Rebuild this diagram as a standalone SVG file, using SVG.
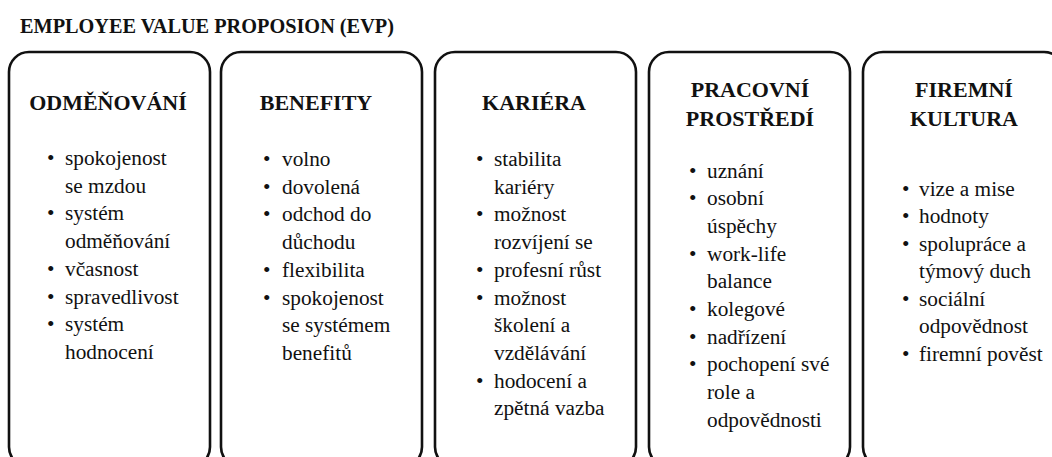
<svg xmlns="http://www.w3.org/2000/svg" width="1052" height="457" viewBox="0 0 1052 457">
<style>
.box{fill:#fff;stroke:#111;stroke-width:2.6}
.t{font-family:"Liberation Serif","Times New Roman",Times,serif;fill:#111}
.title{font-size:20.3px;font-weight:bold}
.h{font-size:22px;font-weight:bold;text-anchor:middle}
.b{font-size:21.3px}
</style>
<rect width="1052" height="457" fill="#fff"/>
<text class="t title" x="20" y="33">EMPLOYEE VALUE PROPOSION (EVP)</text>
<g id="odmenovani">
<rect class="box" x="9" y="52" width="201" height="415" rx="20"/>
<text class="t h" x="108" y="110">ODMĚŇOVÁNÍ</text>
<g class="t b">
<text x="47" y="165">•</text><text x="65" y="165">spokojenost</text><text x="65" y="192.7">se mzdou</text>
<text x="47" y="220.4">•</text><text x="65" y="220.4">systém</text><text x="65" y="248.1">odměňování</text>
<text x="47" y="275.8">•</text><text x="65" y="275.8">včasnost</text>
<text x="47" y="303.5">•</text><text x="65" y="303.5">spravedlivost</text>
<text x="47" y="331.2">•</text><text x="65" y="331.2">systém</text><text x="65" y="358.9">hodnocení</text>
</g>
</g>
<g id="benefity">
<rect class="box" x="221" y="52" width="201" height="415" rx="20"/>
<text class="t h" x="316" y="110">BENEFITY</text>
<g class="t b">
<text x="263" y="166">•</text><text x="282" y="166">volno</text>
<text x="263" y="193.7">•</text><text x="282" y="193.7">dovolená</text>
<text x="263" y="221.4">•</text><text x="282" y="221.4">odchod do</text><text x="282" y="249.1">důchodu</text>
<text x="263" y="276.8">•</text><text x="282" y="276.8">flexibilita</text>
<text x="263" y="304.5">•</text><text x="282" y="304.5">spokojenost</text><text x="282" y="332.2">se systémem</text><text x="282" y="359.9">benefitů</text>
</g>
</g>
<g id="kariera">
<rect class="box" x="435" y="52" width="201" height="415" rx="20"/>
<text class="t h" x="534" y="110">KARIÉRA</text>
<g class="t b">
<text x="476" y="166">•</text><text x="494" y="166">stabilita</text><text x="494" y="193.7">kariéry</text>
<text x="476" y="221.4">•</text><text x="494" y="221.4">možnost</text><text x="494" y="249.1">rozvíjení se</text>
<text x="476" y="276.8">•</text><text x="494" y="276.8">profesní růst</text>
<text x="476" y="304.5">•</text><text x="494" y="304.5">možnost</text><text x="494" y="332.2">školení a</text><text x="494" y="359.9">vzdělávání</text>
<text x="476" y="387.6">•</text><text x="494" y="387.6">hodocení a</text><text x="494" y="415.3">zpětná vazba</text>
</g>
</g>
<g id="pracovni-prostredi">
<rect class="box" x="649" y="52" width="201" height="415" rx="20"/>
<text class="t h" x="750" y="97">PRACOVNÍ</text>
<text class="t h" x="750" y="126">PROSTŘEDÍ</text>
<g class="t b">
<text x="689" y="177.5">•</text><text x="707" y="177.5">uznání</text>
<text x="689" y="205.2">•</text><text x="707" y="205.2">osobní</text><text x="707" y="232.9">úspěchy</text>
<text x="689" y="260.6">•</text><text x="707" y="260.6">work-life</text><text x="707" y="288.3">balance</text>
<text x="689" y="316">•</text><text x="707" y="316">kolegové</text>
<text x="689" y="343.7">•</text><text x="707" y="343.7">nadřízení</text>
<text x="689" y="371.4">•</text><text x="707" y="371.4">pochopení své</text><text x="707" y="399.1">role a</text><text x="707" y="426.8">odpovědnosti</text>
</g>
</g>
<g id="firemni-kultura">
<rect class="box" x="863" y="52" width="201" height="415" rx="20"/>
<text class="t h" x="964" y="97">FIREMNÍ</text>
<text class="t h" x="964" y="126">KULTURA</text>
<g class="t b">
<text x="902" y="195.5">•</text><text x="919" y="195.5">vize a mise</text>
<text x="902" y="223">•</text><text x="919" y="223">hodnoty</text>
<text x="902" y="250.5">•</text><text x="919" y="250.5">spolupráce a</text><text x="919" y="278">týmový duch</text>
<text x="902" y="305.5">•</text><text x="919" y="305.5">sociální</text><text x="919" y="333">odpovědnost</text>
<text x="902" y="360.5">•</text><text x="919" y="360.5">firemní pověst</text>
</g>
</g>
<g id="connectors"/>
</svg>
